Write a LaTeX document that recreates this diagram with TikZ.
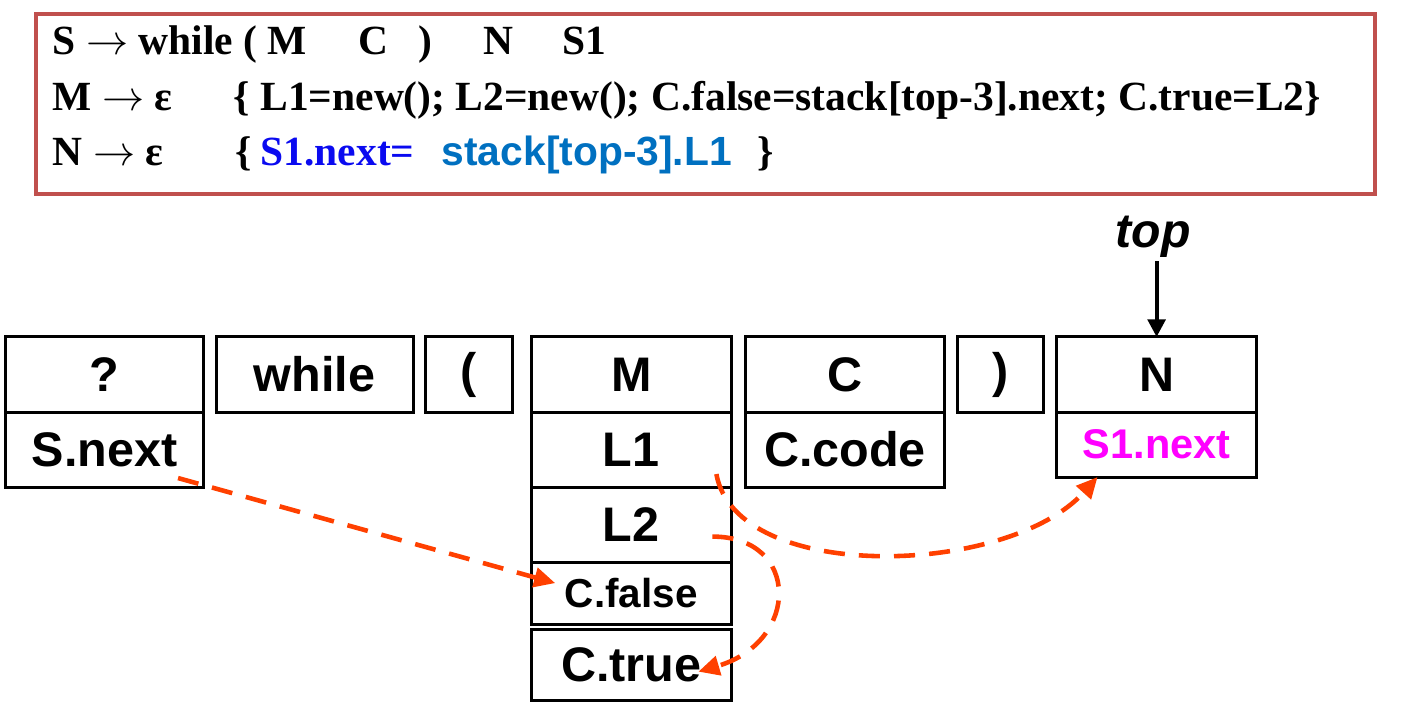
\documentclass[tikz,border=0pt]{standalone}
\usepackage{fontspec}
\setmainfont{Liberation Serif}
\setsansfont{Liberation Sans}
\usepackage{tikz}
\usetikzlibrary{positioning}
\usetikzlibrary{calc}
\usetikzlibrary{arrows.meta}

\definecolor{boxred}{RGB}{192,80,77}
\definecolor{flowred}{RGB}{255,64,0}
\definecolor{labelblue}{RGB}{10,10,240}
\definecolor{stackblue}{RGB}{0,112,192}
\definecolor{attrpink}{RGB}{255,0,255}

\begin{document}
\begin{tikzpicture}[x=0.01cm,y=-0.01cm]
    \useasboundingbox (0,0) rectangle (1405,728);

    \def\gap{0.13cm}
  \tikzset{cell common/.style={draw, line width=0.85pt, outer sep=0pt, inner sep=0pt, anchor=center, minimum width=2cm, minimum height=0.75cm, font=\sffamily\bfseries\fontsize{13.8}{16}\selectfont}}
  \tikzset{head cell/.style={cell common}}
  \tikzset{attr cell/.style={cell common}}
  \tikzset{rule text/.style={anchor=base west, inner sep=0pt, font=\bfseries\fontsize{11.8}{14}\selectfont}}
  \tikzset{flow/.style={draw=flowred, line width=1.3pt, dash pattern=on 6pt off 4pt, -{Triangle[length=6pt,width=5.5pt]}}}

  % rules
  \draw[boxred, line width=1.1pt] (36,14) rectangle (1375,194);

  \node[rule text] (r1) at (52,55) {S $\rightarrow$ while ( M};
  \node[rule text] (r1c) at (358,55) {C};
  \node[rule text] (r1rp) at (418,55) {)};
  \node[rule text] (r1n) at (483,55) {N};
  \node[rule text] (r1s) at (562,55) {S1};
  %
  \node[rule text] (r2) at (52,111) {M $\rightarrow$ ε};
  \node[rule text] (r2act) at (233,111) {\{ L1=new(); L2=new(); C.false=stack[top-3].next; C.true=L2\}};
  %
  \node[rule text] (r3) at (52,166) {N $\rightarrow$ ε};
  \node[rule text] (r3open) at (235,166) {\{};
  \node[rule text, text=labelblue] (r3lhs) at (260,166) {S1.next=};
  \node[rule text, text=stackblue, font=\sffamily\bfseries\fontsize{11.6}{14}\selectfont] (r3rhs) at (441,166) {stack[top-3].L1};
  \node[rule text] (r3close) at (757,166) {\}};

  % stack
  \node[head cell, minimum width=1.97cm] (q) at (104.5,374.5) {?};
  \node[attr cell, minimum width=1.97cm, below=0pt of q] (snext) {S.next};
  \node[head cell, minimum width=1.97cm, right=\gap of q] (while) {while};
  \node[head cell, minimum width=0.87cm, right=0.12cm of while] (lparen) {(};
  \node[head cell, right=0.19cm of lparen] (M) {M};
  \node[attr cell, below=0pt of M] (L1) {L1};
  \node[attr cell, below=0pt of L1] (L2) {L2};
  \node[attr cell, minimum height=0.62cm, below=0pt of L2, font=\sffamily\bfseries\fontsize{11.5}{14}\selectfont] (Cfalse) {C.false};
  \node[attr cell, minimum height=0.71cm, below=0.05cm of Cfalse] (Ctrue) {C.true};
  \node[head cell, minimum width=1.99cm, right=0.14cm of M] (C) {C};
  \node[attr cell, minimum width=1.99cm, below=0pt of C] (Ccode) {C.code};
  \node[head cell, minimum width=0.86cm, right=\gap of C] (rparen) {)};
  \node[head cell, right=\gap of rparen] (N) {N};
  \node[attr cell, minimum height=0.65cm, below=0pt of N, text=attrpink, font=\sffamily\bfseries\fontsize{11.8}{14}\selectfont] (S1next) {S1.next};

  \node[font=\sffamily\bfseries\itshape\fontsize{13.7}{16}\selectfont, inner sep=1.2pt, outer sep=0pt] (top) at (1153,236.5) {top};
  \draw[line width=1.1pt, -{Triangle[length=5pt,width=5pt]}] (top.south -| N.north) -- (N.north);

  % links
  \coordinate (snextOut) at ($(snext.south east)+(-25,-9)$);
  \coordinate (cfalseIn) at ($(Cfalse.west)+(24,-10)$);
  \draw[flow] (snextOut) -- (cfalseIn);

  \coordinate (l1Out) at ($(L1.south east)+(-15,-13)$);
  \coordinate (s1In) at ($(S1next.south west)+(41,0)$);
  \draw[flow] (l1Out) .. controls +(20,110) and +(-90,100) .. (s1In);

  \coordinate (l2Out) at ($(L2.east)+(-19,12)$);
  \coordinate (ctrueIn) at ($(Ctrue.east)+(-33,7)$);
  \draw[flow] (l2Out) .. controls +(88,0) and +(102,-30) .. (ctrueIn);
\end{tikzpicture}
\end{document}
